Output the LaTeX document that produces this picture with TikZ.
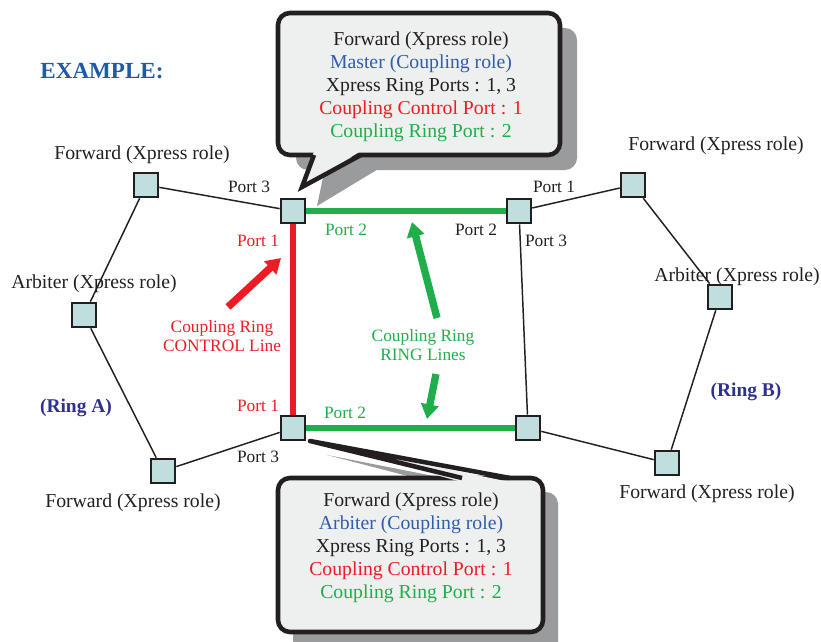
\documentclass[tikz,border=0pt]{standalone}
\usepackage{fontspec}
\setmainfont{Liberation Serif}
\usetikzlibrary{arrows.meta}
\definecolor{swteal}{HTML}{C0DEDE}
\definecolor{ctrlred}{HTML}{ED1C24}
\definecolor{ringgreen}{HTML}{1FAE4A}
\definecolor{roleblue}{HTML}{2F5DAA}
\definecolor{ringnavy}{HTML}{2E3192}
\definecolor{titleblue}{HTML}{1F5AA6}
\definecolor{bubblefill}{HTML}{EEEFEF}
\definecolor{shadowgray}{HTML}{9A9B9D}
\definecolor{ink}{HTML}{231F20}

\begin{document}
\begin{tikzpicture}[x=0.75pt,y=-0.75pt,
  sw/.style={draw=ink,fill=swteal,line width=1.5pt,minimum size=18.5pt,inner sep=0pt},
  xlink/.style={line width=1.1pt,ink},
  ctrlline/.style={line width=3.8pt,ctrlred},
  ringline/.style={line width=3.8pt,ringgreen},
  role/.style={ink,font=\fontsize{14.8}{17}\selectfont},
  port/.style={font=\fontsize{13}{15}\selectfont},
  note/.style={align=center,font=\fontsize{13}{14.3}\selectfont},
  bubble/.style={fill=bubblefill,draw=ink,line width=3.4pt,rounded corners=9pt},
  bubbletxt/.style={align=center,ink,font=\fontsize{14.8}{17.3}\selectfont},
  fatarrow/.style={line width=5.5pt,-{Triangle[length=11pt,width=13pt]}}]
  \useasboundingbox (0,0) rectangle (821,642);

  % shadows of the two callouts
  \fill[shadowgray,rounded corners=9pt] (296,28) rectangle (577,170);
  \fill[shadowgray] (325,168) -- (317,206) -- (380,168) -- cycle;
  \fill[shadowgray,rounded corners=9pt] (293,492) rectangle (558,660);
  \fill[shadowgray] (327,455) -- (477,494) -- (525,494) -- cycle;

  % switches
  \node[sw] (a1) at (146,185) {};
  \node[sw] (a2) at (84,315) {};
  \node[sw] (a3) at (163,471) {};
  \node[sw] (m)  at (293,211) {};
  \node[sw] (c)  at (293,428) {};
  \node[sw] (r1) at (519,211) {};
  \node[sw] (r2) at (528,428) {};
  \node[sw] (b1) at (633,185) {};
  \node[sw] (b2) at (720,297) {};
  \node[sw] (b3) at (667,463) {};

  % rings
  \draw[xlink] (a1) -- (m);
  \draw[xlink] (a1) -- (a2);
  \draw[xlink] (a2) -- (a3);
  \draw[xlink] (a3) -- (c);
  \draw[xlink] (r1) -- (r2);
  \draw[xlink] (r1) -- (b1);
  \draw[xlink] (b1) -- (b2);
  \draw[xlink] (b2) -- (b3);
  \draw[xlink] (b3) -- (r2);
  \draw[ctrlline] (m) -- (c);
  \draw[ringline] (m) -- (r1);
  \draw[ringline] (c) -- (r2);

  % role labels
  \node[role] (a1lbl) at (142,155) {Forward (Xpress role)};
  \node[role] (a2lbl) at (94,284) {Arbiter (Xpress role)};
  \node[role] (a3lbl) at (133,503) {Forward (Xpress role)};
  \node[role] (b1lbl) at (716,146) {Forward (Xpress role)};
  \node[role] (b2lbl) at (737,277) {Arbiter (Xpress role)};
  \node[role] (b3lbl) at (707,494) {Forward (Xpress role)};
  \node[ringnavy,font=\fontsize{14.6}{17}\selectfont\bfseries] (ringa) at (76,408) {(Ring A)};
  \node[ringnavy,font=\fontsize{14.6}{17}\selectfont\bfseries] (ringb) at (746,392) {(Ring B)};
  \node[titleblue,font=\fontsize{17.3}{20}\selectfont\bfseries] (title) at (102,71) {EXAMPLE:};

  % port labels
  \node[port,ink] (mp3) at (249,187) {Port 3};
  \node[port,ctrlred] (mp1) at (258,241) {Port 1};
  \node[port,ringgreen] (mp2) at (346,230) {Port 2};
  \node[port,ink] (r1p2) at (476,230) {Port 2};
  \node[port,ink] (r1p1) at (554,187) {Port 1};
  \node[port,ink] (r1p3) at (546,241) {Port 3};
  \node[port,ctrlred] (cp1) at (258,406) {Port 1};
  \node[port,ringgreen] (cp2) at (345,413) {Port 2};
  \node[port,ink] (cp3) at (258,457) {Port 3};

  % pointers
  \node[note,ctrlred] (ctrlnote) at (222,336) {Coupling Ring\\CONTROL Line};
  \node[note,ringgreen] (ringnote) at (423,345) {Coupling Ring\\RING Lines};
  \coordinate (ctrltail) at (228,307);
  \coordinate (ctrltip) at (281,258);
  \coordinate (uptail) at (437,318);
  \coordinate (uptip) at (412,222);
  \coordinate (dntail) at (436,374);
  \coordinate (dntip) at (427,419);
  \draw[fatarrow,ctrlred] (ctrltail) -- (ctrltip);
  \draw[fatarrow,ringgreen] (uptail) -- (uptip);
  \draw[fatarrow,ringgreen] (dntail) -- (dntip);

  % callout of the master
  \draw[bubble] (278,13) rectangle (560,155);
  \fill[bubblefill] (314,151) -- (302,187) -- (361,151) -- cycle;
  \draw[line width=3.4pt,ink,line join=miter] (314,155) -- (302,187) -- (361,155);
  \node[bubbletxt] (mastertxt) at (421,87)
    {Forward (Xpress role)\\
     \textcolor{roleblue}{Master (Coupling role)}\\
     Xpress Ring Ports : 1, 3\\
     \textcolor{ctrlred}{Coupling Control Port : 1}\\
     \textcolor{ringgreen}{Coupling Ring Port : 2}};

  % callout of the arbiter
  \draw[bubble] (278,478) rectangle (543,632);
  \fill[bubblefill] (310,441) -- (462,482) -- (510,482) -- cycle;
  \draw[line width=3.4pt,ink,line join=round] (462,478) -- (310,441) -- (510,478);
  \node[bubbletxt] (arbtxt) at (411,548)
    {Forward (Xpress role)\\
     \textcolor{roleblue}{Arbiter (Coupling role)}\\
     Xpress Ring Ports : 1, 3\\
     \textcolor{ctrlred}{Coupling Control Port : 1}\\
     \textcolor{ringgreen}{Coupling Ring Port : 2}};
\end{tikzpicture}
\end{document}
